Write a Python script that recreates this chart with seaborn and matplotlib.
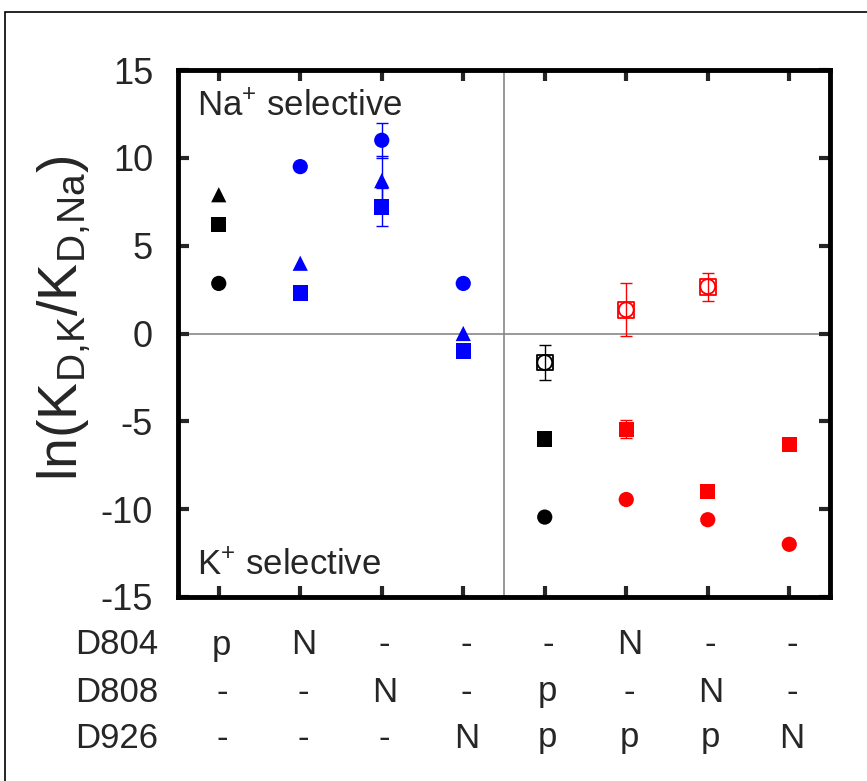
import numpy as np
import pandas as pd
import matplotlib
matplotlib.use("Agg")
import matplotlib.pyplot as plt
import matplotlib.patches as mpatches
import seaborn as sns

sns.set_theme(style="white")
plt.rcParams['font.family'] = ['Liberation Sans', 'DejaVu Sans']
plt.rcParams['mathtext.default'] = 'regular'

# ---- data ----
positions = [1, 2, 3, 4, 5, 6, 7, 8]
col_colors = ['black', 'blue', 'blue', 'blue', 'black', 'red', 'red', 'red']
circle = [2.85, 9.5, 11.0, 2.85, -10.45, -9.45, -10.6, -12.0]
circle_err = [0, 0, 1.0, 0, 0, 0, 0, 0]
square = [6.2, 2.3, 7.2, -1.0, -6.0, -5.45, -9.0, -6.3]
square_err = [0, 0, 1.1, 0, 0, 0.52, 0, 0]
triangle = [7.9, 4.0, 8.7, 0.0, np.nan, np.nan, np.nan, np.nan]
triangle_err = [0, 0, 1.4, 0, 0, 0, 0, 0]
open_pt = [np.nan, np.nan, np.nan, np.nan, -1.65, 1.35, 2.67, np.nan]
open_err = [0, 0, 0, 0, 1.0, 1.5, 0.8, 0]
row_names = ['D804', 'D808', 'D926']
row_codes = [['p', 'N', '-', '-', '-', 'N', '-', '-'],
             ['-', '-', 'N', '-', 'p', '-', 'N', '-'],
             ['-', '-', '-', 'N', 'p', 'p', 'p', 'N']]
yticks = [-15, -10, -5, 0, 5, 10, 15]

W, H = 867, 781
fig = plt.figure(figsize=(W / 100, H / 100), dpi=100)
ax = fig.add_axes([178 / W, 1 - 597 / H, (830 - 178) / W, (597 - 70) / H])

# reference lines
ax.axhline(0, color='#888888', lw=1.2, zorder=0)
ax.axvline(4.5, color='#888888', lw=1.2, zorder=0)

MS = 120

def draw(vals, errs, marker, filled=True):
    df = pd.DataFrame({'x': positions, 'y': vals, 'c': col_colors, 'e': errs})
    df = df.dropna()
    for _, r in df.iterrows():
        if r['e'] > 0:
            ax.errorbar(r['x'], r['y'], yerr=r['e'], fmt='none', ecolor=r['c'],
                        elinewidth=1.0, capsize=4.5, capthick=1.0, zorder=2)
    if filled:
        sns.scatterplot(data=df, x='x', y='y', hue='c',
                        palette={c: c for c in df['c'].unique()},
                        marker=marker, s=MS, edgecolor=None, linewidth=0,
                        legend=False, ax=ax, zorder=3)
    else:
        for m, sz in [('s', MS * 1.1), ('o', MS * 0.95)]:
            for _, r in df.iterrows():
                ax.scatter(r['x'], r['y'], marker=m, s=sz, facecolors='none',
                           edgecolors=r['c'], linewidths=1.3, zorder=3)

draw(circle, circle_err, 'o')
draw(square, square_err, 's')
draw(triangle, triangle_err, '^')
draw(open_pt, open_err, 's', filled=False)

ax.set_xlim(0.5, 8.5)
ax.set_ylim(-15, 15)
ax.set_xticks(positions)
ax.set_xticklabels([])
ax.set_yticks(yticks)
ax.set_yticklabels([str(t) for t in yticks], fontsize=26)
ax.tick_params(direction='in', length=8, width=3, top=True, right=True,
               left=True, bottom=True, pad=18)
for s in ax.spines.values():
    s.set_linewidth(3.5)
    s.set_color('black')
ax.set_xlabel('')
ax.set_ylabel('')

fig.text(64 / W, 1 - 318 / H, r'ln(K$_{D{,}K}$/K$_{D{,}Na}$)', fontsize=40,
         rotation=90, ha='center', va='center')

ax.text(197 / W, 1 - 90 / H, r'Na$^{+}$ selective', transform=fig.transFigure,
        fontsize=25, va='top', ha='left')
ax.text(197 / W, 1 - 575 / H, r'K$^{+}$ selective', transform=fig.transFigure,
        fontsize=25, va='baseline', ha='left')

# mutation table below
row_y = [645, 692, 738]
for name, codes, yy in zip(row_names, row_codes, row_y):
    fy = 1 - yy / H
    fig.text(75 / W, fy, name, fontsize=25, ha='left', va='center')
    for xp, c in zip(positions, codes):
        px = ax.transData.transform((xp, 0))[0] + 3
        fig.text(px / W, fy, c, fontsize=25, ha='center', va='center')

# outer frame
fig.patches.append(mpatches.Rectangle((5 / W, -0.1), 1.2, 1 - 12 / H + 0.1,
                                      transform=fig.transFigure, fill=False,
                                      edgecolor='black', lw=1.2))

fig.savefig('out.png', dpi=100)
